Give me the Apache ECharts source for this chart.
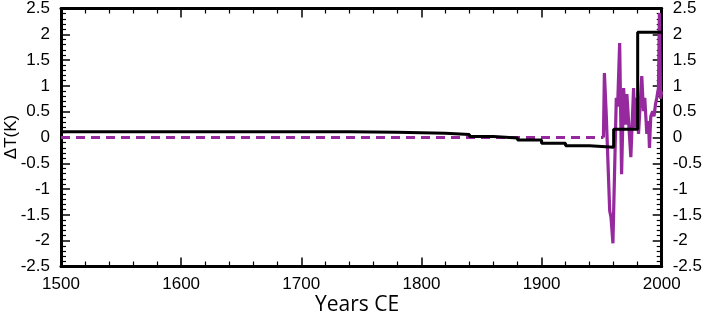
<!DOCTYPE html>
<html>
<head>
<meta charset="utf-8">
<script src="https://cdn.jsdelivr.net/npm/echarts@6/dist/echarts.min.js"></script>
<style>html,body{margin:0;padding:0;background:#fff}#c{width:705px;height:319px}</style>
</head>
<body>
<div id="c"></div>
<script>
// Step (black) series: year where each level starts, and its value
var stepYears = [1500, 1740, 1780, 1800, 1820, 1840, 1860, 1880, 1900, 1920, 1940, 1960, 1980, 2000];
var stepValues = [0.11, 0.10, 0.09, 0.08, 0.06, 0.02, -0.01, -0.05, -0.11, -0.16, -0.19, 0.16, 2.04, 2.04];

// Purple dashed baseline (before data)
var dashYears = [1500, 1951.5];
var dashValues = [0, 0];

// Purple solid series
var purpleYears = [1951.5, 1952.3, 1953.9, 1955, 1956.7, 1957.8, 1959.4, 1962.2, 1963.3, 1965, 1966.6, 1968.3, 1969.9, 1971, 1974.3, 1976.6, 1977.7, 1979.3, 1980.7, 1983.4, 1984.8, 1985.9, 1987.6, 1989, 1989.8, 1990.9, 1992.5, 1993.6, 1994.8, 1995.9, 1997.3, 1998.1, 1999, 2000];
var purpleValues = [0, 1.25, 0.41, 0.38, -1.42, -1.55, -2.05, 0.77, 0.6, 1.83, -0.71, 0.96, 0.25, 0.84, -0.38, 0.96, 0.19, 0.77, 0.07, 1.19, 0.51, 0.77, 0.07, 0.32, -0.2, 0.41, 0.51, 0.41, 0.64, 0.77, 0.96, 2.41, 0.75, 0.9];

var xTicks = [1500, 1600, 1700, 1800, 1900, 2000];
var yTicks = [-2.5, -2, -1.5, -1, -0.5, 0, 0.5, 1, 1.5, 2, 2.5];

function zip(a, b) { return a.map(function (v, i) { return [v, b[i]]; }); }

var purple = '#96299d';
var lblFont = { fontFamily: 'Liberation Sans', fontSize: 17, color: '#000' };

function yAxisDef(pos, showLabel) {
  return {
    type: 'value', position: pos, min: yTicks[0], max: yTicks[yTicks.length - 1], interval: 0.5,
    axisLine: { show: true, onZero: false, lineStyle: { color: '#000', width: 3 } },
    axisTick: { show: true, inside: true, length: 9, lineStyle: { color: '#000', width: 1.5 } },
    minorTick: { show: true, splitNumber: 5, length: 5, lineStyle: { color: '#000', width: 1.2 } },
    splitLine: { show: false },
    axisLabel: Object.assign({ show: showLabel, margin: 11, formatter: function (v) { return String(v); } }, lblFont)
  };
}
function xAxisDef(pos, showLabel) {
  return {
    type: 'value', position: pos, min: xTicks[0], max: xTicks[xTicks.length - 1], interval: 100,
    axisLine: { show: true, onZero: false, lineStyle: { color: '#000', width: 3 } },
    axisTick: { show: true, inside: true, length: 9, lineStyle: { color: '#000', width: 1.5 } },
    minorTick: { show: true, splitNumber: 5, length: 5, lineStyle: { color: '#000', width: 1.2 } },
    splitLine: { show: false },
    axisLabel: Object.assign({ show: showLabel, margin: 9, formatter: function (v) { return String(v); } }, lblFont)
  };
}

var chart = echarts.init(document.getElementById('c'), null, { renderer: 'canvas' });
chart.setOption({
  animation: false,
  backgroundColor: '#fff',
  grid: { left: 61, right: 40, top: 6.5, bottom: 52.5, containLabel: false },
  xAxis: [xAxisDef('bottom', true), xAxisDef('top', false)],
  yAxis: [yAxisDef('left', true), yAxisDef('right', true)],
  graphic: [
    { type: 'text', left: 315, top: 295, style: { text: 'Years CE', fontFamily: 'Open Sans', fontSize: 21, fill: '#000' } },
    { type: 'text', x: 3, y: 137, rotation: Math.PI / 2, style: { text: 'ΔT(K)', fontFamily: 'Liberation Sans', fontSize: 17, fill: '#000', align: 'center', verticalAlign: 'top' } }
  ],
  series: [
    { type: 'line', xAxisIndex: 0, yAxisIndex: 0, data: zip(dashYears, dashValues), symbol: 'none',
      lineStyle: { color: purple, width: 3, type: [9, 6] }, z: 2 },
    { type: 'line', xAxisIndex: 0, yAxisIndex: 0, data: zip(purpleYears, purpleValues), symbol: 'none',
      lineStyle: { color: purple, width: 3.2 }, z: 2 },
    { type: 'line', xAxisIndex: 0, yAxisIndex: 0, data: zip(stepYears, stepValues), symbol: 'none', step: 'end',
      lineStyle: { color: '#000', width: 3 }, z: 3 }
  ]
});
</script>
</body>
</html>
